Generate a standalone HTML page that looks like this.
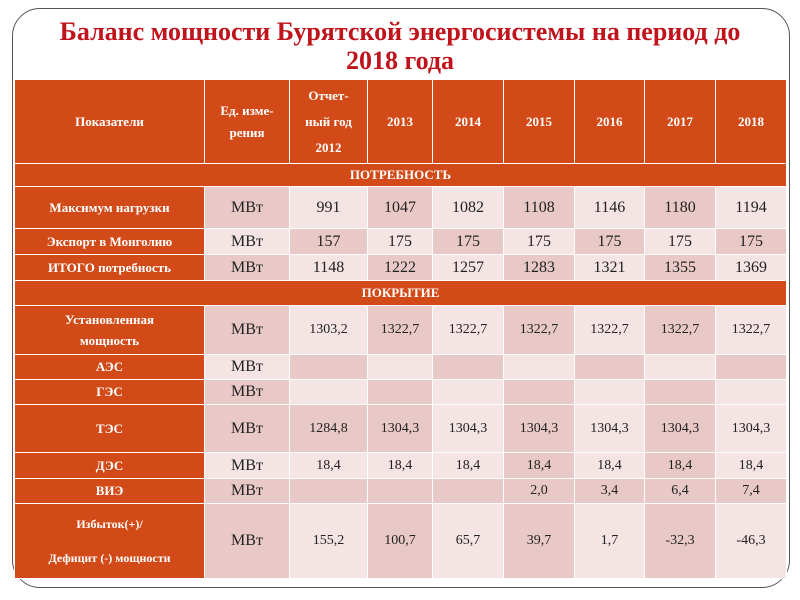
<!DOCTYPE html>
<html><head><meta charset="utf-8">
<style>
body{margin:0;width:800px;height:600px;background:#fff;position:relative;overflow:hidden;font-family:"Liberation Serif","Noto Serif CJK SC",serif}
.frame{position:absolute;left:12px;top:8px;width:778px;height:580px;border:1.5px solid #555;border-radius:28px;box-sizing:border-box}
h1{position:absolute;left:0;top:17px;width:800px;margin:0;text-align:center;color:#c0141c;font-size:26px;line-height:29px;font-weight:bold}
table{position:absolute;left:14px;top:79px;border-collapse:collapse;table-layout:fixed}
td{border:1.5px solid #fff;padding:0;text-align:center;vertical-align:middle;font-size:16px;color:#222}
td.h{background:#d24a17;color:#fff;font-weight:bold;font-size:13px}
td.s{background:#d24a17;color:#fff;font-weight:bold;font-size:13px;height:22px}
.d{background:#e9c9c7}.l{background:#f4e4e3}
td.sm{font-size:14px}
</style></head><body>
<div class="frame"></div>
<h1>Баланс мощности Бурятской энергосистемы на период до<br>2018 года</h1>
<table>
<colgroup><col style="width:190px"><col style="width:85px"><col style="width:78px"><col style="width:65px"><col style="width:71px"><col style="width:71px"><col style="width:70px"><col style="width:71px"><col style="width:71px"></colgroup>
<tr style="height:84px"><td class="h">Показатели</td><td class="h" style="line-height:22px">Ед. изме-<br>рения</td><td class="h" style="line-height:26px">Отчет-<br>ный год<br>2012</td><td class="h">2013</td><td class="h">2014</td><td class="h">2015</td><td class="h">2016</td><td class="h">2017</td><td class="h">2018</td></tr>
<tr><td class="s" colspan="9">ПОТРЕБНОСТЬ</td></tr>
<tr style="height:42px"><td class="h">Максимум нагрузки</td><td class="d">МВт</td><td class="l">991</td><td class="d">1047</td><td class="l">1082</td><td class="d">1108</td><td class="l">1146</td><td class="d">1180</td><td class="l">1194</td></tr>
<tr style="height:26px"><td class="h">Экспорт в Монголию</td><td class="l">МВт</td><td class="d">157</td><td class="l">175</td><td class="d">175</td><td class="l">175</td><td class="d">175</td><td class="l">175</td><td class="d">175</td></tr>
<tr style="height:26px"><td class="h">ИТОГО потребность</td><td class="d">МВт</td><td class="l">1148</td><td class="d">1222</td><td class="l">1257</td><td class="d">1283</td><td class="l">1321</td><td class="d">1355</td><td class="l">1369</td></tr>
<tr><td class="s" colspan="9" style="height:24px">ПОКРЫТИЕ</td></tr>
<tr style="height:49px"><td class="h" style="line-height:21px">Установленная<br>мощность</td><td class="d">МВт</td><td class="l sm">1303,2</td><td class="d sm">1322,7</td><td class="l sm">1322,7</td><td class="d sm">1322,7</td><td class="l sm">1322,7</td><td class="d sm">1322,7</td><td class="l sm">1322,7</td></tr>
<tr style="height:25px"><td class="h">АЭС</td><td class="l">МВт</td><td class="d"></td><td class="l"></td><td class="d"></td><td class="l"></td><td class="d"></td><td class="l"></td><td class="d"></td></tr>
<tr style="height:25px"><td class="h">ГЭС</td><td class="d">МВт</td><td class="l"></td><td class="d"></td><td class="l"></td><td class="d"></td><td class="l"></td><td class="d"></td><td class="l"></td></tr>
<tr style="height:48px"><td class="h">ТЭС</td><td class="d">МВт</td><td class="d sm">1284,8</td><td class="d sm">1304,3</td><td class="l sm">1304,3</td><td class="d sm">1304,3</td><td class="l sm">1304,3</td><td class="d sm">1304,3</td><td class="l sm">1304,3</td></tr>
<tr style="height:26px"><td class="h">ДЭС</td><td class="l">МВт</td><td class="l sm">18,4</td><td class="l sm">18,4</td><td class="l sm">18,4</td><td class="d sm">18,4</td><td class="l sm">18,4</td><td class="d sm">18,4</td><td class="l sm">18,4</td></tr>
<tr style="height:25px"><td class="h">ВИЭ</td><td class="d">МВт</td><td class="d"></td><td class="d"></td><td class="d"></td><td class="d sm">2,0</td><td class="d sm">3,4</td><td class="d sm">6,4</td><td class="d sm">7,4</td></tr>
<tr style="height:75px"><td class="h" style="line-height:34px;font-size:12px">Избыток(+)/<br>Дефицит (-) мощности</td><td class="d">МВт</td><td class="l sm">155,2</td><td class="d sm">100,7</td><td class="l sm">65,7</td><td class="d sm">39,7</td><td class="l sm">1,7</td><td class="d sm">-32,3</td><td class="l sm">-46,3</td></tr>
</table>
</body></html>
